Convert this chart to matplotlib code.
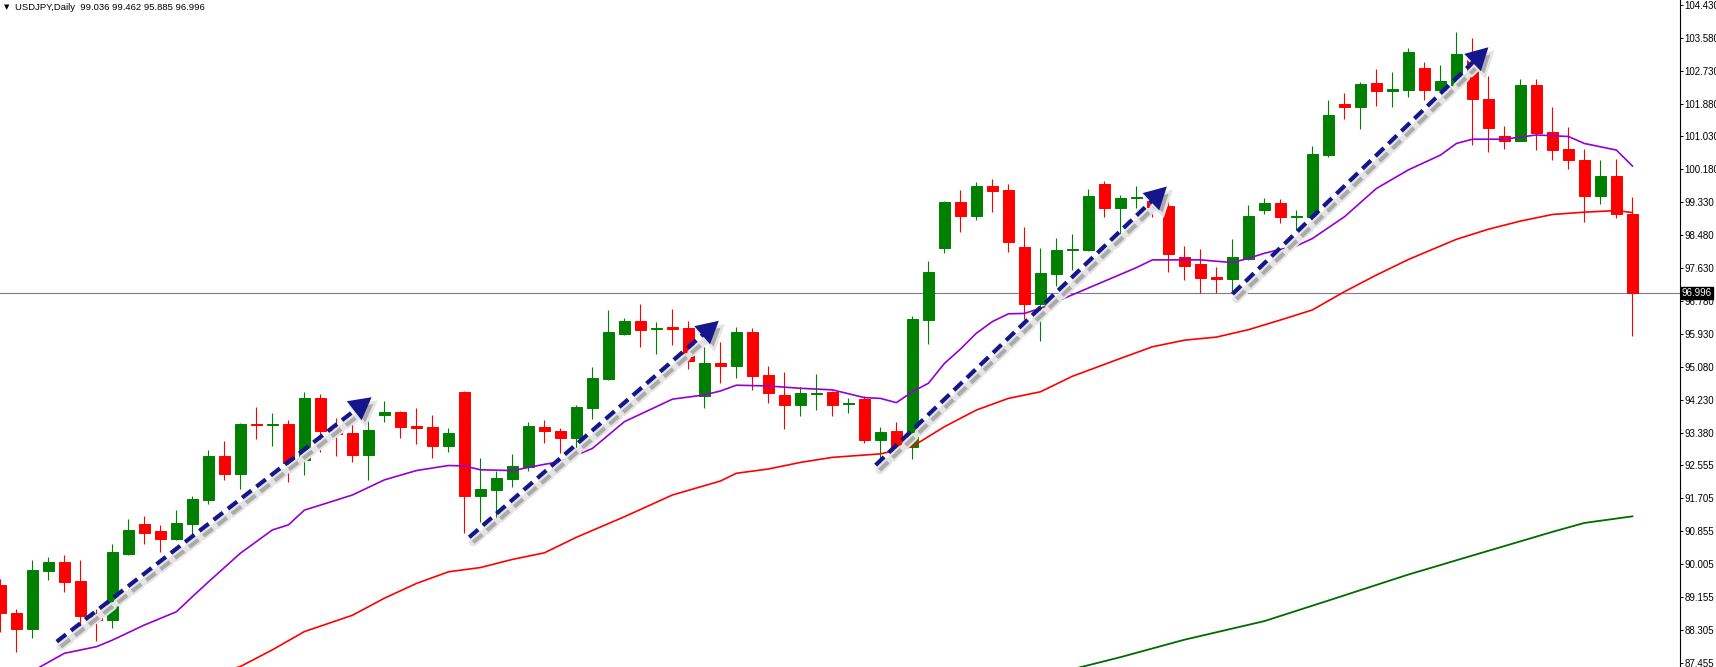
import numpy as np
import matplotlib
matplotlib.use("Agg")
import matplotlib.pyplot as plt
import matplotlib.transforms as mtransforms

plt.rcParams['font.family'] = ['Liberation Sans', 'DejaVu Sans']
plt.rcParams['lines.scale_dashes'] = False

# USDJPY daily candles (oldest -> newest)
opens = [
    89.471, 88.740, 88.337, 89.840, 90.055, 89.574, 88.672, 88.569, 90.270, 91.043,
    90.862, 90.656, 91.043, 91.661, 92.795, 92.340, 93.620, 93.603, 93.620, 92.692,
    94.290, 93.465, 93.380, 92.821, 93.861, 93.929, 93.569, 93.543, 93.053, 94.444,
    91.773, 91.927, 92.211, 92.520, 93.542, 93.439, 93.267, 94.041, 94.779, 95.948,
    96.266, 96.060, 96.111, 96.094, 94.350, 95.192, 95.123, 95.991, 94.883, 94.367,
    94.118, 94.401, 94.444, 94.135, 94.264, 93.216, 93.440, 93.019, 96.301, 98.156,
    99.342, 98.990, 99.754, 99.651, 98.182, 96.713, 97.495, 98.105, 98.113, 99.806,
    99.196, 99.453, 99.453, 99.239, 97.924, 97.744, 97.409, 97.366, 97.881, 99.136,
    99.316, 98.963, 98.963, 100.561, 101.867, 101.798, 102.408, 102.210, 102.228, 102.795,
    102.228, 102.356, 103.001, 101.996, 101.042, 100.922, 102.356, 101.145, 100.707, 100.423,
    99.504, 100.011, 99.036]
highs = [
    89.617, 88.843, 90.115, 90.192, 90.235, 90.115, 88.843, 90.527, 91.172, 91.249,
    91.008, 91.404, 91.764, 92.950, 93.182, 93.637, 94.058, 93.904, 93.723, 94.445,
    94.393, 93.783, 93.697, 93.826, 94.213, 93.955, 94.032, 93.852, 93.517, 94.470,
    92.735, 92.408, 92.846, 93.663, 93.723, 93.508, 94.109, 95.089, 96.558, 96.343,
    96.712, 96.240, 96.575, 96.266, 95.613, 95.733, 96.120, 96.094, 95.115, 94.960,
    94.582, 94.908, 94.462, 94.290, 94.341, 93.542, 93.671, 96.404, 97.821, 99.368,
    99.651, 99.857, 99.935, 99.806, 98.697, 98.156, 98.414, 98.517, 99.677, 99.874,
    99.522, 99.754, 99.608, 99.411, 98.208, 98.130, 97.667, 98.388, 99.264, 99.445,
    99.411, 99.135, 100.784, 101.970, 102.150, 102.434, 102.769, 102.692, 103.310, 102.949,
    102.872, 103.722, 103.568, 102.588, 101.300, 102.511, 102.511, 101.789, 101.274, 100.707,
    100.423, 100.449, 99.462]
lows = [
    88.268, 87.752, 88.113, 89.600, 89.299, 88.311, 88.036, 88.371, 90.244, 90.536,
    90.313, 90.630, 90.716, 91.558, 92.177, 91.945, 93.234, 93.053, 92.134, 92.306,
    92.898, 92.795, 92.641, 92.177, 93.672, 93.259, 93.105, 92.744, 92.898, 90.819,
    91.085, 91.145, 91.987, 92.417, 93.139, 92.881, 92.975, 93.757, 94.754, 95.922,
    95.613, 95.432, 95.664, 95.046, 94.041, 94.685, 94.814, 94.505, 94.169, 93.499,
    93.834, 93.989, 93.834, 93.912, 93.139, 92.692, 92.750, 92.709, 95.682, 98.036,
    98.577, 98.878, 99.084, 98.062, 96.335, 95.759, 97.177, 97.589, 98.079, 98.964,
    98.448, 99.179, 98.964, 97.546, 97.340, 96.988, 96.988, 96.988, 97.847, 99.041,
    98.809, 98.619, 98.619, 100.509, 101.489, 101.231, 101.815, 101.798, 102.056, 101.970,
    102.210, 102.314, 100.810, 100.630, 100.707, 100.905, 100.681, 100.423, 100.192, 98.834,
    99.298, 98.937, 95.885]
closes = [
    88.740, 88.337, 89.857, 90.055, 89.557, 88.680, 88.569, 90.313, 90.888, 90.819,
    90.665, 91.069, 91.679, 92.795, 92.340, 93.620, 93.603, 93.620, 92.606, 94.290,
    93.440, 93.362, 92.821, 93.465, 93.921, 93.551, 93.526, 93.053, 93.388, 91.773,
    91.936, 92.219, 92.537, 93.568, 93.439, 93.267, 94.058, 94.805, 95.991, 96.266,
    96.051, 96.085, 96.077, 95.252, 95.192, 95.123, 95.991, 94.865, 94.427, 94.118,
    94.419, 94.427, 94.118, 94.152, 93.216, 93.413, 93.010, 96.326, 97.538, 99.342,
    98.990, 99.754, 99.634, 98.319, 96.713, 97.512, 98.105, 98.139, 99.496, 99.196,
    99.445, 99.479, 99.222, 98.010, 97.701, 97.392, 97.349, 97.924, 98.981, 99.316,
    98.955, 98.989, 100.578, 101.583, 101.798, 102.382, 102.210, 102.245, 103.207, 102.228,
    102.460, 103.155, 101.996, 101.248, 100.922, 102.356, 101.119, 100.690, 100.432, 99.504,
    100.011, 99.040, 96.996]

# moving averages (bar index, value)
fast_bars = [2, 4, 6, 7, 9, 11, 12, 13, 15, 17, 18, 19, 21, 22, 24, 26, 28, 29, 30, 32,
             34, 35, 37, 39, 42, 44, 45, 46, 48, 50, 52, 54, 55, 56, 57, 58, 59, 60, 61, 62,
             63, 64, 65, 67, 69, 71, 72, 75, 77, 78, 79, 80, 81, 82, 84, 86, 88, 90, 91, 92,
             94, 96, 98, 99, 101, 102]
fast_ma = [87.25, 87.71, 87.88, 88.05, 88.44, 88.78, 89.17, 89.55, 90.29, 90.89, 91.02, 91.40,
           91.66, 91.79, 92.18, 92.42, 92.55, 92.54, 92.44, 92.42, 92.58, 92.65, 92.99, 93.68,
           94.26, 94.37, 94.47, 94.62, 94.60, 94.54, 94.50, 94.30, 94.28, 94.17, 94.45, 94.67,
           95.18, 95.55, 95.96, 96.26, 96.46, 96.47, 96.60, 96.95, 97.30, 97.65, 97.85, 97.85,
           97.78, 97.89, 98.02, 98.12, 98.21, 98.40, 98.96, 99.69, 100.17, 100.55, 100.85,
           100.96, 100.96, 101.07, 101.03, 100.85, 100.68, 100.27]
mid_bars = [14, 15, 17, 19, 22, 24, 26, 28, 30, 32, 34, 36, 39, 42, 45, 46, 48, 50, 52, 55,
            57, 59, 61, 63, 65, 67, 70, 72, 74, 76, 78, 80, 82, 84, 86, 88, 91, 93, 95, 97,
            99, 101, 102]
mid_ma = [87.25, 87.37, 87.80, 88.27, 88.69, 89.13, 89.51, 89.81, 89.92, 90.13, 90.30, 90.70,
          91.23, 91.79, 92.15, 92.35, 92.46, 92.63, 92.76, 92.85, 93.04, 93.55, 93.98, 94.28,
          94.45, 94.85, 95.31, 95.61, 95.78, 95.86, 96.05, 96.30, 96.56, 97.03, 97.46, 97.86,
          98.38, 98.64, 98.85, 99.02, 99.08, 99.12, 99.07]
slow_bars = [67, 70, 74, 79, 83, 88, 92, 97, 99, 102]
slow_ma = [87.30, 87.61, 88.06, 88.54, 89.07, 89.74, 90.23, 90.84, 91.07, 91.24]

# hand-drawn trend arrows: (start bar, start price), (tip bar, tip price)
arrows = [((3.52, 88.01), (23.2, 94.31)),
          ((29.3, 90.70), (44.9, 96.28)),
          ((54.7, 92.56), (72.9, 99.74)),
          ((77.0, 96.97), (93.0, 103.33))]

price_ticks = [104.430, 103.580, 102.730, 101.880, 101.030, 100.180, 99.330, 98.480, 97.630,
               96.780, 95.930, 95.080, 94.230, 93.380, 92.555, 91.705, 90.855, 90.005, 89.155,
               88.305, 87.455]
last_price = 96.996

fig = plt.figure(figsize=(17.16, 6.67), dpi=100)
ax = fig.add_axes([0, 0, 1680 / 1716, 1])
ax.set_xlim(-0.025, 104.975)
ax.set_ylim(87.357, 104.548)

o = np.array(opens); h = np.array(highs); l = np.array(lows); c = np.array(closes)
x = np.arange(len(o))
cols = np.where(c >= o, '#008000', '#ff0000')

ax.axhline(last_price, color='#7b7b94', lw=0.8, zorder=1)
ax.vlines(x, l, h, colors=cols, lw=0.8, zorder=2)
ax.bar(x, np.abs(c - o), bottom=np.minimum(o, c), width=0.64, color=cols,
       edgecolor=cols, linewidth=0.7, zorder=3)

ax.plot(slow_bars, slow_ma, color='#006b00', lw=1.3, zorder=4)
ax.plot(mid_bars, mid_ma, color='#ff0000', lw=1.2, zorder=4)
ax.plot(fast_bars, fast_ma, color='#9400d3', lw=1.2, zorder=4)

# arrows with drop shadow
navy = '#15158c'
shadow_tr = mtransforms.offset_copy(ax.transData, fig=fig, x=4, y=-5, units='dots')
inv = ax.transData.inverted()
for start, tip in arrows:
    p0 = ax.transData.transform(start)
    p1 = ax.transData.transform(tip)
    u = (p1 - p0) / np.hypot(*(p1 - p0))
    n = np.array([-u[1], u[0]])
    base = p1 - u * 22
    head = inv.transform([p1, base + n * 12, base - n * 12])
    shaft = inv.transform([p0, base + u * 2])
    dash = (8.5, 4.5)
    ax.plot(shaft[:, 0], shaft[:, 1], transform=shadow_tr, color='#e4e4e4', lw=6,
            dashes=dash, dash_capstyle='round', zorder=5)
    ax.plot(shaft[:, 0], shaft[:, 1], transform=shadow_tr, color='#ababab', lw=3,
            dashes=dash, zorder=5)
    ax.fill(head[:, 0], head[:, 1], transform=shadow_tr, facecolor='#ababab',
            edgecolor='#e4e4e4', lw=2, zorder=5)
    ax.plot(shaft[:, 0], shaft[:, 1], color=navy, lw=3, dashes=dash, zorder=6)
    ax.fill(head[:, 0], head[:, 1], color=navy, lw=0, zorder=6)

for side in ['top', 'left', 'bottom']:
    ax.spines[side].set_visible(False)
ax.spines['right'].set_linewidth(0.8)
ax.set_xticks([])
ax.yaxis.tick_right()
ax.set_yticks(price_ticks)
ax.set_yticklabels([f'{t:.3f}' for t in price_ticks])
ax.tick_params(axis='y', direction='out', length=2.2, width=0.7, pad=1, labelsize=7,
               colors='black')

ax.text(1.0 + 2 / 1680, last_price, f'{last_price:.3f}', transform=ax.get_yaxis_transform(),
        ha='left', va='center', fontsize=7, color='white', zorder=10, clip_on=False,
        bbox=dict(boxstyle='square,pad=0.12', facecolor='black', edgecolor='black'))

fig.text(4 / 1716, 1 - 7 / 667, '\u25bc', fontsize=5, va='center', ha='left',
         family=['DejaVu Sans'])
fig.text(15 / 1716, 1 - 7 / 667, 'USDJPY,Daily  99.036 99.462 95.885 96.996',
         fontsize=6.8, va='center', ha='left', color='black')

fig.savefig('out.png', dpi=100, facecolor='white')
